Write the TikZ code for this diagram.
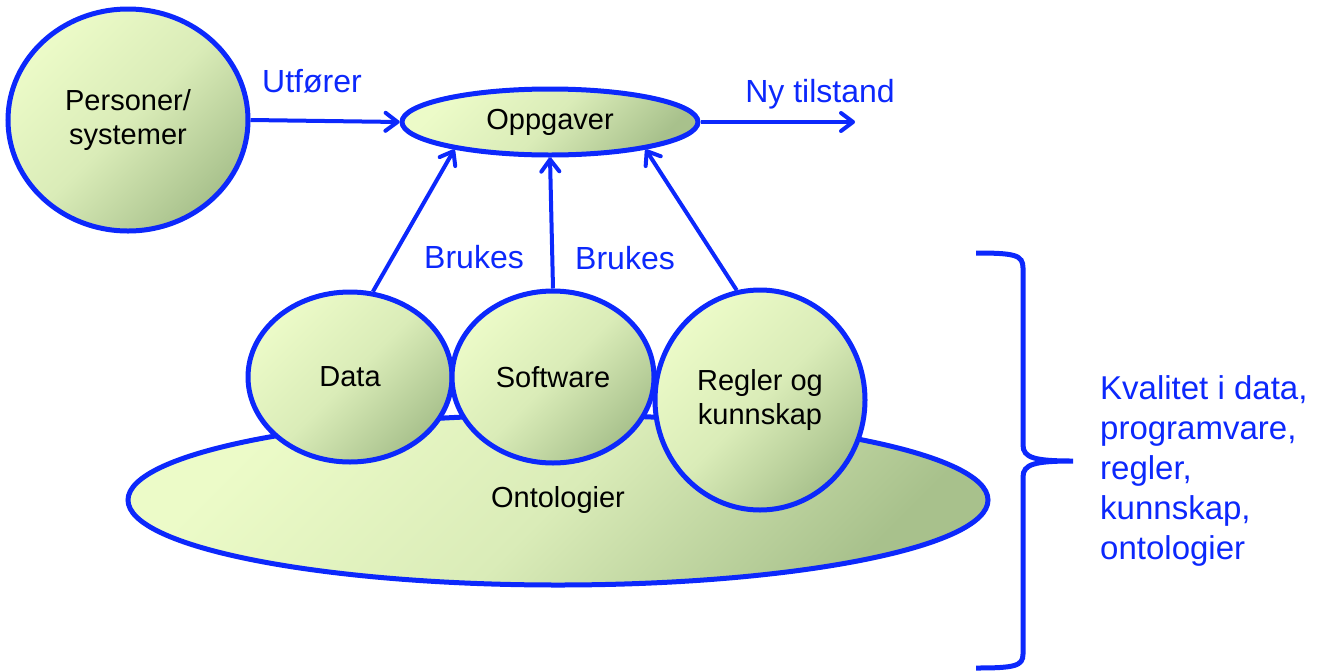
\documentclass[tikz,border=0pt]{standalone}
\usepackage{fontspec}
\setmainfont{Liberation Sans}
\usetikzlibrary{shapes.geometric,arrows.meta}
\definecolor{myblue}{RGB}{12,40,252}
\definecolor{gLight}{RGB}{236,251,200}
\definecolor{gMid}{RGB}{218,236,184}
\definecolor{gDark}{RGB}{168,193,140}
\tikzset{
 bubble/.style={ellipse, draw=myblue, line width=5pt, inner sep=0pt,
   top color=gLight, bottom color=gDark, middle color=gMid, shading angle=45,
   font=\fontsize{29}{34}\selectfont, align=center, text=black},
 arr/.style={draw=myblue, line width=4pt, -{Straight Barb[length=12pt,width=18pt,round]}},
 lbl/.style={text=myblue, inner sep=0pt, font=\fontsize{32}{40}\selectfont}
}
\begin{document}
\begin{tikzpicture}[x=1pt,y=-1pt]
\useasboundingbox (0,0) rectangle (1319,670);
% nodes
\node[bubble, minimum width=240pt, minimum height=222pt] (pers) at (128,120) {Personer/\\systemer};
\node[bubble, minimum width=296pt, minimum height=66pt] (opp) at (550,122) {Oppgaver};
\node[bubble, minimum width=860pt, minimum height=170pt] (onto) at (558,500) {Ontologier};
\node[bubble, minimum width=204pt, minimum height=170pt] (data) at (350,377) {Data};
\node[bubble, minimum width=202pt, minimum height=172pt] (soft) at (553,377) {Software};
\node[bubble, minimum width=210pt, minimum height=220pt] (regl) at (760,400) {Regler og\\kunnskap};
\coordinate (nyend) at (855,122);
% connectors
\draw[arr] (pers.east) -- (opp.west);
\draw[arr] (opp.east) -- (nyend);
\draw[arr] (data.75) -- (opp.196);
\draw[arr] (soft.north) -- (opp.south);
\draw[arr] (regl.102) -- (opp.344);
% labels
\node[lbl, anchor=base] (utf) at (312,92) {Utfører};
\node[lbl, anchor=base] (ny) at (820,102) {Ny tilstand};
\node[lbl, anchor=base] (b1) at (474,268) {Brukes};
\node[lbl, anchor=base] (b2) at (625,269) {Brukes};
\node[lbl, anchor=north west, align=left, font=\fontsize{33}{40}\selectfont] (kval) at (1100,375) {Kvalitet i data,\\programvare,\\regler,\\kunnskap,\\ontologier};
% brace
\draw[myblue, line width=5pt] (976,253) .. controls (1015,253) and (1023,255) .. (1023,268)
  -- (1023,445) .. controls (1023,458) and (1035,461) .. (1073,461)
  .. controls (1035,461) and (1023,464) .. (1023,477)
  -- (1023,654) .. controls (1023,666) and (1015,668) .. (976,668);
\end{tikzpicture}
\end{document}
